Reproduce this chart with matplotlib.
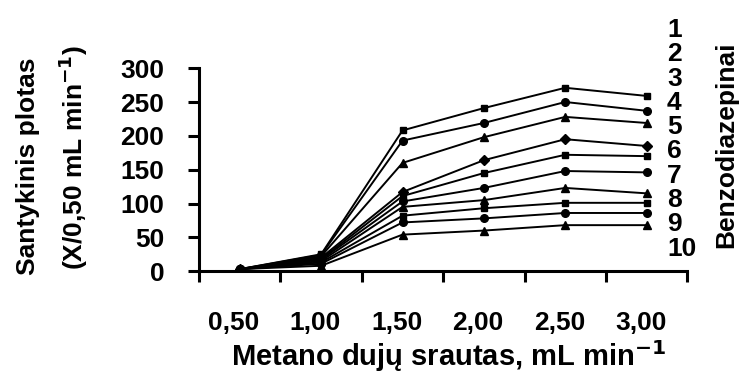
import numpy as np
import matplotlib
matplotlib.use("Agg")
import matplotlib.pyplot as plt

plt.rcParams["font.family"] = ["Liberation Sans", "DejaVu Sans"]
plt.rcParams["font.weight"] = "bold"
plt.rcParams["mathtext.default"] = "bf"

# methane flow rate categories (mL/min)
flow_labels = ["0,50", "1,00", "1,50", "2,00", "2,50", "3,00"]

# relative peak area for the ten benzodiazepines
bzd_1 = [3, 25, 208, 241, 271, 259]
bzd_2 = [3, 24, 193, 219, 250, 237]
bzd_3 = [3, 22, 160, 198, 228, 219]
bzd_4 = [3, 20, 117, 164, 195, 185]
bzd_5 = [3, 18, 111, 145, 172, 170]
bzd_6 = [3, 17, 103, 123, 148, 146]
bzd_7 = [3, 15, 95, 105, 123, 115]
bzd_8 = [3, 13, 82, 93, 101, 101]
bzd_9 = [3, 11, 72, 78, 86, 86]
bzd_10 = [3, 8, 54, 60, 68, 68]

series = [bzd_1, bzd_2, bzd_3, bzd_4, bzd_5, bzd_6, bzd_7, bzd_8, bzd_9, bzd_10]
markers = ["s", "o", "^", "D", "s", "o", "^", "s", "o", "^"]
msizes = [5, 5.5, 5.5, 5, 5, 5.5, 5.5, 5, 5.5, 5.5]

fig = plt.figure(figsize=(7.43, 3.83), dpi=100)
ax = fig.add_axes([0.268, 0.292, 0.657, 0.530])

x = np.arange(len(flow_labels))
for vals, m, ms in zip(series, markers, msizes):
    ax.plot(x, vals, color="black", lw=1.4, marker=m, ms=ms,
            markerfacecolor="black", markeredgecolor="black")

ax.set_xlim(-0.5, 5.5)
ax.set_ylim(0, 300)
ax.set_yticks(np.arange(0, 301, 50))

for side in ["top", "right"]:
    ax.spines[side].set_visible(False)
for side in ["left", "bottom"]:
    ax.spines[side].set_linewidth(2.2)

# tick marks on the category boundaries, labels on their own zero-length ticks
ax.set_xticks(np.arange(-0.5, 5.6, 1.0), minor=True)
ax.set_xticks(x - 0.07)
ax.set_xticklabels(flow_labels)
ax.tick_params(axis="x", which="minor", length=8, width=2.2, direction="out")
ax.tick_params(axis="x", which="major", length=0, pad=29, labelsize=19)
ax.tick_params(axis="y", length=8, width=2.2, direction="out", pad=17, labelsize=19)

fig.text(449 / 743, 1 - 356 / 383, "Metano dujų srautas, mL min$^{-1}$",
         ha="center", va="center", fontsize=21)
fig.text(28 / 743, 1 - 166 / 383, "Santykinis plotas",
         rotation=90, ha="center", va="center", fontsize=19)
fig.text(73 / 743, 1 - 158 / 383, "(X/0,50 mL min$^{-1}$)",
         rotation=90, ha="center", va="center", fontsize=19)

for i in range(10):
    fig.text(667 / 743, 1 - (30 + 24.3 * i) / 383, str(i + 1),
             ha="left", va="center", fontsize=19)
fig.text(726 / 743, 1 - 145 / 383, "Benzodiazepinai",
         rotation=90, ha="center", va="center", fontsize=19)

fig.savefig("out.png", dpi=100)
